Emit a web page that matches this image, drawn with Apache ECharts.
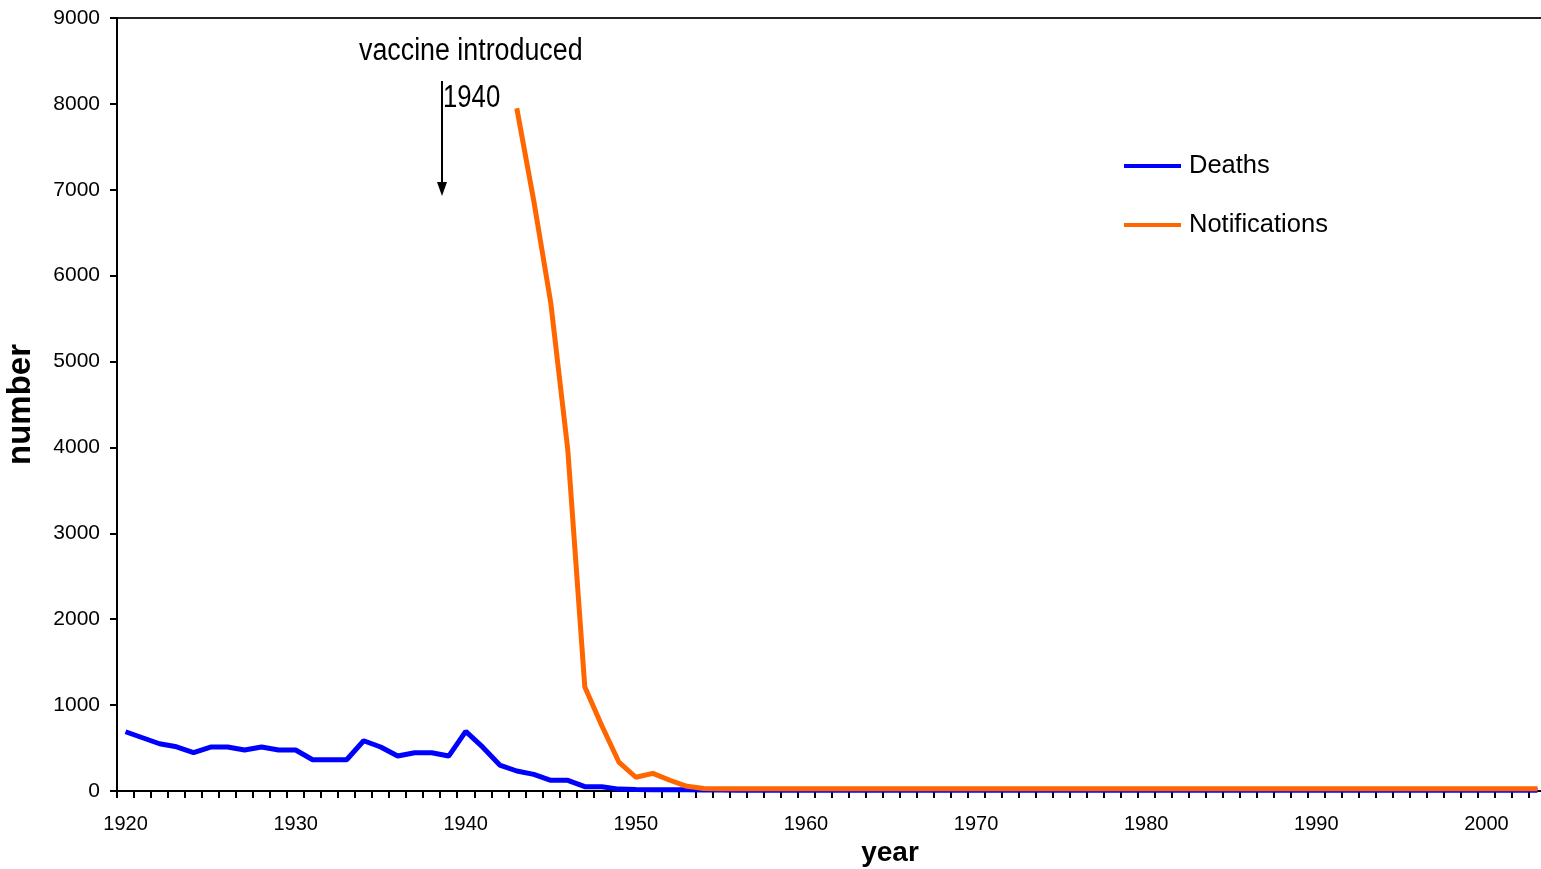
<!DOCTYPE html>
<html>
<head>
<meta charset="utf-8">
<script src="https://cdn.jsdelivr.net/npm/echarts@6/dist/echarts.min.js"></script>
<style>
html,body{margin:0;padding:0;background:#fff;}
#chart{width:1541px;height:869px;}
</style>
</head>
<body>
<div id="chart"></div>
<script>
// ---- data ----
var firstYear = 1920, lastYear = 2003;
var years = [];
for (var y = firstYear; y <= lastYear; y++) years.push(String(y));

var deaths = [
  690, 620, 550, 515, 446, 512, 512, 477, 512, 477,   // 1920-1929
  477, 364, 364, 364, 585, 512, 407, 446, 446, 407,   // 1930-1939
  695, 510, 302, 233, 194, 124, 124, 50, 50, 22,      // 1940-1949
  18, 16, 15, 14, 12, 12, 10, 10, 10, 10,             // 1950-1959
  10, 10, 10, 10, 10, 10, 10, 10, 10, 10,             // 1960-1969
  10, 10, 10, 10, 10, 10, 10, 10, 10, 10,             // 1970-1979
  10, 10, 10, 10, 10, 10, 10, 10, 10, 10,             // 1980-1989
  10, 10, 10, 10, 10, 10, 10, 10, 10, 10,             // 1990-1999
  10, 10, 10, 10                                      // 2000-2003
];

var notifications = [
  null, null, null, null, null, null, null, null, null, null,  // 1920-1929
  null, null, null, null, null, null, null, null, null, null,  // 1930-1939
  null, null, null, 7950, 6870, 5680, 3970, 1210, 760, 337,    // 1940-1949
  160, 205, 125, 55, 28, 25, 25, 25, 25, 25,                   // 1950-1959
  25, 25, 25, 25, 25, 25, 25, 25, 25, 25,                      // 1960-1969
  25, 25, 25, 25, 25, 25, 25, 25, 25, 25,                      // 1970-1979
  25, 25, 25, 25, 25, 25, 25, 25, 25, 25,                      // 1980-1989
  25, 25, 25, 25, 25, 25, 25, 25, 25, 25,                      // 1990-1999
  25, 25, 25, 25                                               // 2000-2003
];

var yMin = 0, yMax = 9000, yStep = 1000;
var seriesNames = ['Deaths', 'Notifications'];
var annotationTitle = 'vaccine introduced';
var annotationYear = '1940';

// ---- chart ----
var REG = "'Liberation Sans', Arial, sans-serif";

var chart = echarts.init(document.getElementById('chart'), null, {renderer: 'canvas'});
chart.setOption({
  backgroundColor: '#ffffff',
  animation: false,
  grid: {
    left: 117, right: -5, top: 18, bottom: 78,
    outerBoundsMode: 'none',
    containLabel: false,
    show: true, borderColor: '#222', borderWidth: 2, backgroundColor: 'transparent'
  },
  legend: {
    orient: 'vertical',
    left: 1124, top: 149, padding: 0,
    itemWidth: 57, itemHeight: 4, itemGap: 25,
    icon: 'rect',
    textStyle: {fontFamily: REG, fontSize: 25.5, color: '#000', lineHeight: 34, padding: [0, 0, 0, 3]},
    data: seriesNames
  },
  xAxis: {
    type: 'category',
    data: years,
    boundaryGap: true,
    name: 'year',
    nameLocation: 'middle',
    nameGap: 44,
    nameTextStyle: {fontFamily: REG, fontWeight: 'bold', fontSize: 28, color: '#000', padding: [0, 0, 0, 117]},
    axisLine: {lineStyle: {color: '#000', width: 2}},
    axisTick: {show: true, interval: 0, length: 7, lineStyle: {color: '#000', width: 2}},
    axisLabel: {interval: 9, fontFamily: REG, fontSize: 20, color: '#000', margin: 23},
    splitLine: {show: false}
  },
  yAxis: {
    type: 'value',
    min: yMin, max: yMax, interval: yStep,
    name: 'number',
    nameLocation: 'middle',
    nameGap: 80,
    nameTextStyle: {fontFamily: REG, fontWeight: 'bold', fontSize: 33, color: '#000'},
    axisLine: {show: true, lineStyle: {color: '#000', width: 2}},
    axisTick: {show: true, length: 7, lineStyle: {color: '#000', width: 2}},
    axisLabel: {fontFamily: REG, fontSize: 21, color: '#000', margin: 17,
      formatter: function (v) { return String(v); }},
    splitLine: {show: false}
  },
  series: [
    {
      name: seriesNames[0], type: 'line', data: deaths,
      symbol: 'none', connectNulls: false,
      lineStyle: {color: '#0000ff', width: 5},
      itemStyle: {color: '#0000ff'}, z: 3
    },
    {
      name: seriesNames[1], type: 'line', data: notifications,
      symbol: 'none', connectNulls: false,
      lineStyle: {color: '#ff6600', width: 5},
      itemStyle: {color: '#ff6600'}, z: 4
    }
  ],
  graphic: [
    {type: 'text', x: 359, y: 36, scaleX: 0.865, style: {text: annotationTitle, font: '31px ' + REG, fill: '#000'}},
    {type: 'text', x: 443, y: 83, scaleX: 0.83, style: {text: annotationYear, font: '31px ' + REG, fill: '#000'}},
    {type: 'line', shape: {x1: 442, y1: 81, x2: 442, y2: 186}, style: {stroke: '#000', lineWidth: 2}},
    {type: 'polygon', shape: {points: [[437, 182], [447, 182], [442, 196]]}, style: {fill: '#000'}}
  ]
});
</script>
</body>
</html>
